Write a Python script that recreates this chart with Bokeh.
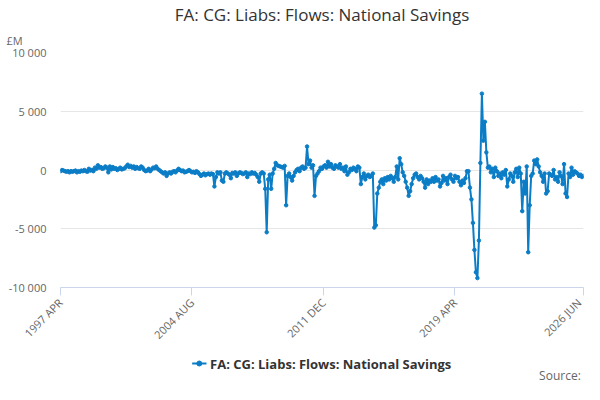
from bokeh.plotting import figure
from bokeh.layouts import column
from bokeh.models import FixedTicker, CustomJSTickFormatter, Title, Range1d
from bokeh.core.properties import value
from bokeh.embed import file_html
from bokeh.resources import INLINE

values = [
 -100,0,-50,-100,-150,-100,-200,-100,-150,
 -100,-50,-200,-100,-150,-50,-100,0,-100,-150,100,-50,
 0,-100,200,100,400,200,250,100,150,300,200,-200,
 300,50,250,100,150,0,100,200,50,100,150,300,
 450,250,350,200,300,100,250,150,100,300,200,0,
 -100,-50,100,-100,50,200,150,300,100,0,-100,-200,
 -300,-200,-500,-300,-200,-300,-150,-100,-200,-50,100,0,
 -100,-50,-200,-150,-100,0,-100,-200,-150,-250,-100,-200,
 -350,-500,-400,-300,-450,-350,-300,-400,-300,-350,-1400,-600,
 -200,-300,-200,-900,-1000,-300,-200,-300,-400,-700,-250,-300,
 -200,-500,-300,-200,-250,-350,-300,-200,-600,-300,-350,-200,
 -300,-250,-400,-600,-1000,-300,-200,-300,-1600,-5300,-800,-400,
 -1600,-300,100,600,400,350,300,250,200,350,-3000,-500,
 -300,-600,-900,-500,-200,0,100,-100,200,300,100,200,
 2000,500,800,200,400,-2200,-500,-300,-100,200,100,300,
 400,200,700,300,500,200,100,400,300,200,500,100,
 200,-100,300,-400,-200,100,0,200,100,-100,300,200,
 -1200,-600,-300,-800,-500,-400,-600,-500,-300,-4900,-4700,-2000,
 -1500,-1000,-800,-1200,-700,-900,-600,-800,-500,-700,-1000,-600,
 300,-800,1000,500,-200,-500,-1000,-1500,-2200,-1800,-1200,-700,
 -400,-300,-600,-800,-500,-700,-1000,-1500,-800,-1200,-900,-1000,
 -700,-1000,-600,-900,-800,-1400,-1100,-500,-900,-700,-1200,-600,
 -400,-800,-1000,-500,-700,-600,-1000,-1300,-900,-1100,-700,-100,
 -100,-1500,-2500,-4500,-6800,-8700,-9200,-6000,600,6500,2500,4100,
 1500,200,300,-200,100,-600,200,-100,-500,-300,-700,-200,
 -400,0,-1400,-800,-300,-500,-1000,-200,100,-600,200,-300,
 -3500,-1000,-2000,300,-7000,-3000,-500,-300,800,500,900,300,
 -200,-500,-1000,-300,-2000,-1800,-300,-400,-500,0,-800,-600,
 -1000,-200,-500,-1200,500,-2000,-2300,-300,-600,200,-400,-100,
 -200,-300,-500,-400,-600,-500,
]
series_name = "FA: CG: Liabs: Flows: National Savings"
tick_labels = ["1997 APR", "2004 AUG", "2011 DEC", "2019 APR", "2026 JUN"]
tick_idx = [0, 88, 176, 264, 350]
y_ticks = [-10000, -5000, 0, 5000, 10000]

x = list(range(len(values)))
color = "#0b7dc6"
p = figure(width=584, height=350, output_backend="svg", toolbar_location=None,
           x_range=Range1d(0, len(values) - 1), y_range=Range1d(-10000, 10000),
           min_border_left=60, min_border_right=1, min_border_top=0, min_border_bottom=0)
p.title.text = series_name
p.title.align = "center"
p.title.text_font = "Open Sans"
p.title.text_font_size = "17px"
p.title.text_font_style = "normal"
p.title.text_color = "#333333"
p.title.standoff = 0
p.line(x, values, line_color=color, line_width=2)
p.scatter(x, values, size=3.5, color=color)
p.xaxis.ticker = FixedTicker(ticks=tick_idx)
p.xaxis.major_label_overrides = {i: l for i, l in zip(tick_idx, tick_labels)}
p.xaxis.major_label_orientation = 0.785
p.xaxis.axis_line_color = "#ccd6eb"
p.xaxis.major_tick_line_color = "#ccd6eb"
p.xaxis.major_tick_out = 8
p.xaxis.major_tick_in = 0
p.xaxis.minor_tick_line_color = None
p.yaxis.ticker = FixedTicker(ticks=y_ticks)
p.yaxis.formatter = CustomJSTickFormatter(code="return tick.toString().replace(/\\B(?=(\\d{3})+(?!\\d))/g, ' ');")
p.yaxis.axis_line_color = None
p.yaxis.major_tick_line_color = None
p.yaxis.minor_tick_line_color = None
p.yaxis.major_label_standoff = 8
for ax in (p.xaxis, p.yaxis):
    ax.major_label_text_font = "Open Sans"
    ax.major_label_text_font_size = "11px"
    ax.major_label_text_color = "#666666"
p.xgrid.grid_line_color = None
p.ygrid.grid_line_color = "#e6e6e6"
p.outline_line_color = None
p.add_layout(Title(text="£M", align="left", text_font="Open Sans", text_font_size="11px",
                   text_color="#666666", text_font_style="normal", offset=-54, standoff=10), "above")

# legend + source strip
q = figure(width=584, height=34, output_backend="svg", toolbar_location=None,
           x_range=Range1d(0, 584), y_range=Range1d(0, 34),
           min_border=0)
q.axis.visible = False
q.grid.visible = False
q.outline_line_color = None
q.line([147, 163], [21, 21], line_color=color, line_width=2)
q.scatter([155], [21], size=5, color=color)
q.text([167], [21], text=[series_name], text_font=value("Open Sans"), text_font_size="13px",
       text_font_style="bold", text_color="#333333", text_baseline="middle")
q.text([581], [9], text=["Source:"], text_font=value("Open Sans"), text_font_size="12px",
       text_color="#666666", text_baseline="middle", text_align="right")
open("out.html", "w").write(file_html(column(p, q, spacing=0), INLINE))
